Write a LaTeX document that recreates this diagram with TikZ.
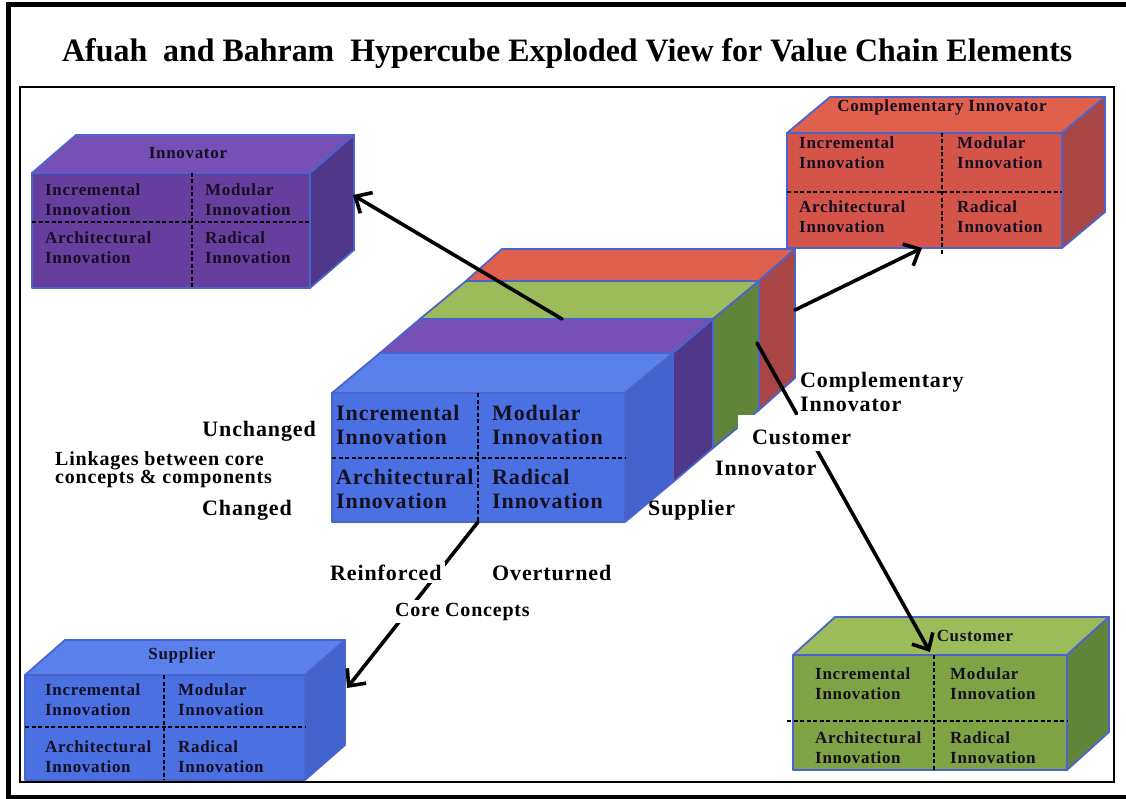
\documentclass[tikz,border=0pt]{standalone}
\usepackage{graphicx}
\usepackage{fontspec}
\setmainfont{Liberation Serif}[LetterSpace=4]
\newfontfamily\titlefont{Liberation Serif}
\usetikzlibrary{arrows.meta}

% face colours of the prisms
\definecolor{edgeblue}{HTML}{4A64CC}
\definecolor{blutop}{HTML}{5A80EC}
\definecolor{blufront}{HTML}{4A70E2}
\definecolor{bluside}{HTML}{4262CE}
\definecolor{purtop}{HTML}{7650B4}
\definecolor{purfront}{HTML}{663F9E}
\definecolor{purside}{HTML}{4E3688}
\definecolor{grntop}{HTML}{9CBC5C}
\definecolor{grnfront}{HTML}{7EA244}
\definecolor{grnside}{HTML}{62843A}
\definecolor{redtop}{HTML}{E0604E}
\definecolor{redfront}{HTML}{D4544A}
\definecolor{redside}{HTML}{A84646}
\definecolor{inktext}{HTML}{150F22}

\tikzset{
  edge/.style={draw=edgeblue, line width=1.8pt, line join=round},
  cubetxt/.style={font=\fontsize{22}{24.5}\selectfont\bfseries, text=inktext, inner sep=0pt, anchor=base west},
  boxtxt/.style={font=\fontsize{17}{20}\selectfont\bfseries, text=inktext, inner sep=0pt, anchor=base west},
  boxhead/.style={font=\fontsize{17}{20}\selectfont\bfseries, text=inktext, inner sep=0pt, anchor=base},
  lbl/.style={font=\fontsize{22}{24}\selectfont\bfseries, inner sep=0pt},
  mask/.style={fill=white, inner sep=3pt},
  divider/.style={black, line width=1.5pt, dash pattern=on 4pt off 2.5pt},
  arr/.style={line width=3.6pt, line cap=round, -{Straight Barb[length=13pt,width=24pt,line width=3.6pt]}},
}

% prism: front rectangle (#1,#2)-(#3,#4), depth (#5 right, #6 up), colour prefix #7
\newcommand\prism[7]{%
  \filldraw[fill=#7top, edge] (#1,#2) -- (#1+#5,#2-#6) -- (#3+#5,#2-#6) -- (#3,#2) -- cycle;
  \filldraw[fill=#7side, edge] (#3,#2) -- (#3+#5,#2-#6) -- (#3+#5,#4-#6) -- (#3,#4) -- cycle;
  \filldraw[fill=#7front, edge] (#1,#2) rectangle (#3,#4);
}
\newcommand\twol[2]{\begin{tabular}[t]{@{}l@{}}#1\\#2\end{tabular}}

\begin{document}
\begin{tikzpicture}[x=1pt, y=-1pt]
\useasboundingbox (0,0) rectangle (1126,799);
\fill[white] (0,0) rectangle (1126,799);

% frames
\draw[line width=5pt] (1130,5) -- (8,5) -- (8,797) -- (1130,797);
\draw[line width=2.2pt] (20,87) rectangle (1114,782);

% title
\node[anchor=base west, inner sep=0pt] (title) at (62,62)
  {\resizebox{1010pt}{23pt}{\titlefont\bfseries Afuah\ \ and Bahram\ \ Hypercube Exploded View for Value Chain Elements}};

% exploded boxes
\prism{32}{173}{310}{288}{44}{38}{pur}
\prism{787}{133}{1062}{248}{43}{36}{red}
\prism{25}{675}{305}{780}{40}{35}{blu}
\prism{793}{655}{1067}{770}{42}{38}{grn}

% hypercube slabs, back to front
\prism{466}{281}{759}{410}{36}{32}{red}
\prism{420}{319}{713}{448}{46}{38}{grn}
\prism{380}{353}{673}{482}{40}{34}{pur}
\prism{332}{393}{625}{522}{48}{40}{blu}

% quadrant dividers
\draw[divider] (192,173) -- (192,288);
\draw[divider] (32,222) -- (310,222);
\draw[divider] (942,133) -- (942,255);
\draw[divider] (787,192) -- (1062,192);
\draw[divider] (164,675) -- (164,780);
\draw[divider] (25,727) -- (305,727);
\draw[divider] (934,655) -- (934,770);
\draw[divider] (787,721) -- (1067,721);
\draw[divider] (478,393) -- (478,522);
\draw[divider] (332,458) -- (625,458);

% box headings
\node[boxhead] (innHead) at (188,159) {Innovator};
\node[boxhead] (cmpHead) at (942,112) {Complementary Innovator};
\node[boxhead] (supHead) at (182,659) {Supplier};
\node[boxhead] (cusHead) at (975,641) {Customer};

% quadrant texts
\node[boxtxt] (inn1) at (45,196) {\twol{Incremental}{Innovation}};
\node[boxtxt] (inn2) at (205,196) {\twol{Modular}{Innovation}};
\node[boxtxt] (inn3) at (45,244) {\twol{Architectural}{Innovation}};
\node[boxtxt] (inn4) at (205,244) {\twol{Radical}{Innovation}};

\node[boxtxt] (cmp1) at (799,149) {\twol{Incremental}{Innovation}};
\node[boxtxt] (cmp2) at (957,149) {\twol{Modular}{Innovation}};
\node[boxtxt] (cmp3) at (799,213) {\twol{Architectural}{Innovation}};
\node[boxtxt] (cmp4) at (957,213) {\twol{Radical}{Innovation}};

\node[boxtxt] (sup1) at (45,695) {\twol{Incremental}{Innovation}};
\node[boxtxt] (sup2) at (178,695) {\twol{Modular}{Innovation}};
\node[boxtxt] (sup3) at (45,752) {\twol{Architectural}{Innovation}};
\node[boxtxt] (sup4) at (178,752) {\twol{Radical}{Innovation}};

\node[boxtxt] (cus1) at (815,679) {\twol{Incremental}{Innovation}};
\node[boxtxt] (cus2) at (950,679) {\twol{Modular}{Innovation}};
\node[boxtxt] (cus3) at (815,743) {\twol{Architectural}{Innovation}};
\node[boxtxt] (cus4) at (950,743) {\twol{Radical}{Innovation}};

\node[cubetxt] (hc1) at (336,420) {\twol{Incremental}{Innovation}};
\node[cubetxt] (hc2) at (492,420) {\twol{Modular}{Innovation}};
\node[cubetxt] (hc3) at (336,484) {\twol{Architectural}{Innovation}};
\node[cubetxt] (hc4) at (492,484) {\twol{Radical}{Innovation}};

% arrow ends
\coordinate (innFrom) at (562,319);
\coordinate (innTo) at (353,195);
\coordinate (cmpFrom) at (795,310);
\coordinate (cmpTo) at (922,248);
\coordinate (cusFrom) at (757,343);
\coordinate (cusTo) at (930,652);
\coordinate (supFrom) at (478,522);
\coordinate (supTo) at (347,688);

\draw[arr] (innFrom) -- (innTo);
\draw[arr] (cmpFrom) -- (cmpTo);
\draw[arr] (cusFrom) -- (cusTo);
\draw[arr] (supFrom) -- (supTo);

% axis labels
\node[lbl, anchor=base east] (unch) at (316,436) {Unchanged};
\node[lbl, anchor=base east] (chg) at (292,515) {Changed};
\node[font=\fontsize{20}{18}\selectfont\bfseries, inner sep=0pt, anchor=base west] (link) at (55,465)
  {\twol{Linkages between core}{concepts \& components}};
\node[lbl, mask, anchor=base west] (reinf) at (327,580) {Reinforced};
\node[lbl, anchor=base west] (overt) at (492,580) {Overturned};
\node[font=\fontsize{20}{24}\selectfont\bfseries, mask, anchor=base west] (core) at (392,616) {Core Concepts};
\node[lbl, anchor=base west] (supl) at (648,515) {Supplier};
\node[lbl, mask, inner sep=2pt, anchor=base west] (cmpl) at (798,387) {\twol{Complementary}{Innovator}};
\node[lbl, fill=white, anchor=north west] (cust) at (738,415)
  {\hspace*{14pt}\rule[-7pt]{0pt}{36pt}Customer\hspace*{4pt}};
\node[lbl, anchor=base west] (innl) at (715,475) {Innovator};
\end{tikzpicture}
\end{document}
